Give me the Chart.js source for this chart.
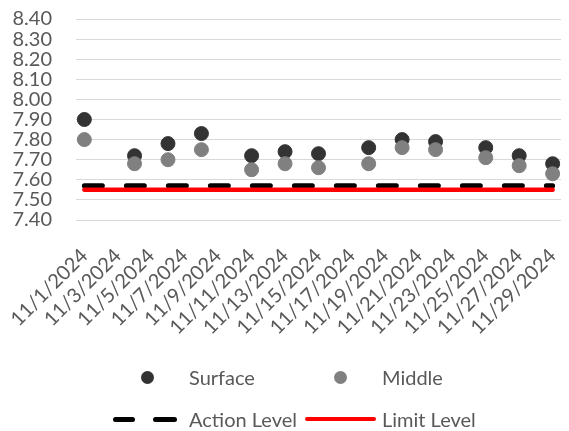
<!DOCTYPE html>
<html>
<head>
<meta charset="utf-8">
<script src="https://cdn.jsdelivr.net/npm/chart.js@4.4.1/dist/chart.umd.min.js"></script>
<style>
  html, body { margin: 0; padding: 0; background: #fff; }
  #wrap { position: relative; width: 569px; height: 431px; }
  #legend { position: absolute; left: 0; top: 0; width: 569px; height: 431px; font-family: Lato, sans-serif; font-size: 20px; color: #595959; }
  .lg-text { position: absolute; line-height: 24px; white-space: nowrap; }
  .sym { position: absolute; }
</style>
</head>
<body>
<div id="wrap">
  <canvas id="chart" width="569" height="431"></canvas>
  <div id="legend"></div>
</div>
<script>
// dates on the category axis (one per day)
const dates = [
  '11/1/2024', '11/2/2024', '11/3/2024', '11/4/2024', '11/5/2024', '11/6/2024', '11/7/2024',
  '11/8/2024', '11/9/2024', '11/10/2024', '11/11/2024', '11/12/2024', '11/13/2024', '11/14/2024',
  '11/15/2024', '11/16/2024', '11/17/2024', '11/18/2024', '11/19/2024', '11/20/2024', '11/21/2024',
  '11/22/2024', '11/23/2024', '11/24/2024', '11/25/2024', '11/26/2024', '11/27/2024', '11/28/2024',
  '11/29/2024'
];

// pH readings (null = no sample that day)
const surface = [
  7.90, null, null, 7.72, null, 7.78, null, 7.83, null, null, 7.72, null, 7.74, null,
  7.73, null, null, 7.76, null, 7.80, null, 7.79, null, null, 7.76, null, 7.72, null, 7.68
];
const middle = [
  7.80, null, null, 7.68, null, 7.70, null, 7.75, null, null, 7.65, null, 7.68, null,
  7.66, null, null, 7.68, null, 7.76, null, 7.75, null, null, 7.71, null, 7.67, null, 7.63
];

// threshold lines
const actionLevel = [
  7.57, 7.57, 7.57, 7.57, 7.57, 7.57, 7.57, 7.57, 7.57, 7.57, 7.57, 7.57, 7.57, 7.57, 7.57,
  7.57, 7.57, 7.57, 7.57, 7.57, 7.57, 7.57, 7.57, 7.57, 7.57, 7.57, 7.57, 7.57, 7.57
];
const limitLevel = [
  7.55, 7.55, 7.55, 7.55, 7.55, 7.55, 7.55, 7.55, 7.55, 7.55, 7.55, 7.55, 7.55, 7.55, 7.55,
  7.55, 7.55, 7.55, 7.55, 7.55, 7.55, 7.55, 7.55, 7.55, 7.55, 7.55, 7.55, 7.55, 7.55
];

const yMin = 7.40;
const yMax = 8.40;
const yStep = 0.10;

const textColor = '#595959';
const font = { family: 'Lato', size: 20 };

const ctx = document.getElementById('chart').getContext('2d');

const chart = new Chart(ctx, {
  type: 'line',
  data: {
    labels: dates,
    datasets: [
      {
        label: 'Surface',
        data: surface,
        showLine: false,
        pointRadius: 7,
        pointHoverRadius: 7,
        pointBorderWidth: 1,
        pointBackgroundColor: '#333333',
        pointBorderColor: '#333333',
        borderColor: '#333333',
        order: 2
      },
      {
        label: 'Middle',
        data: middle,
        showLine: false,
        pointRadius: 7,
        pointHoverRadius: 7,
        pointBorderWidth: 1,
        pointBackgroundColor: '#808080',
        pointBorderColor: '#808080',
        borderColor: '#808080',
        order: 1
      },
      {
        label: 'Action Level',
        data: actionLevel,
        borderColor: '#000000',
        borderWidth: 5,
        borderDash: [18, 24],
        borderCapStyle: 'round',
        pointRadius: 0,
        order: 4
      },
      {
        label: 'Limit Level',
        data: limitLevel,
        borderColor: '#ff0000',
        borderWidth: 4.5,
        borderCapStyle: 'round',
        pointRadius: 0,
        order: 3
      }
    ]
  },
  options: {
    responsive: false,
    animation: false,
    layout: { padding: { top: 19, right: 0, left: 0, bottom: 0 } },
    plugins: {
      legend: { display: false },
      tooltip: { enabled: false }
    },
    scales: {
      x: {
        offset: true,
        grid: { display: false, drawTicks: false },
        border: { display: false },
        ticks: {
          autoSkip: false,
          minRotation: 45,
          maxRotation: 45,
          padding: 24,
          color: textColor,
          font: font,
          callback: function (val, i) {
            return i % 2 === 0 ? this.getLabelForValue(val) : '';
          }
        },
        afterFit: s => { s.height = 211; s.paddingLeft = 0; s.paddingRight = 0; }
      },
      y: {
        min: yMin,
        max: yMax,
        grid: { color: '#d9d9d9', lineWidth: 1, drawTicks: false },
        border: { display: false },
        ticks: {
          autoSkip: false,
          stepSize: yStep,
          padding: 24,
          color: textColor,
          font: font,
          callback: v => Number(v).toFixed(2)
        },
        afterFit: s => { s.width = 76; s.paddingTop = 0; s.paddingBottom = 0; }
      }
    }
  }
});

// legend laid out like the original (two columns, two rows)
const legend = document.getElementById('legend');
function addText(txt, left, cy) {
  const d = document.createElement('div');
  d.className = 'lg-text';
  d.textContent = txt;
  d.style.left = left + 'px';
  d.style.top = (cy - 12) + 'px';
  legend.appendChild(d);
}
function addDot(color, cx, cy) {
  const d = document.createElement('div');
  d.className = 'sym';
  Object.assign(d.style, { left: (cx - 6.5) + 'px', top: (cy - 6.5) + 'px', width: '13px', height: '13px', borderRadius: '50%', background: color });
  legend.appendChild(d);
}
function addBar(color, x1, x2, cy, h) {
  const d = document.createElement('div');
  d.className = 'sym';
  Object.assign(d.style, { left: x1 + 'px', top: (cy - h / 2) + 'px', width: (x2 - x1) + 'px', height: h + 'px', borderRadius: (h / 2) + 'px', background: color });
  legend.appendChild(d);
}
const ds = chart.data.datasets;
addDot(ds[0].pointBackgroundColor, 147, 377);
addText(ds[0].label, 189, 377);
addDot(ds[1].pointBackgroundColor, 340, 377);
addText(ds[1].label, 382, 377);
addBar(ds[2].borderColor, 113, 135, 419, 5);
addBar(ds[2].borderColor, 153, 177, 419, 5);
addText(ds[2].label, 189, 419);
addBar(ds[3].borderColor, 305, 376, 419, 4);
addText(ds[3].label, 382, 419);
</script>
</body>
</html>
